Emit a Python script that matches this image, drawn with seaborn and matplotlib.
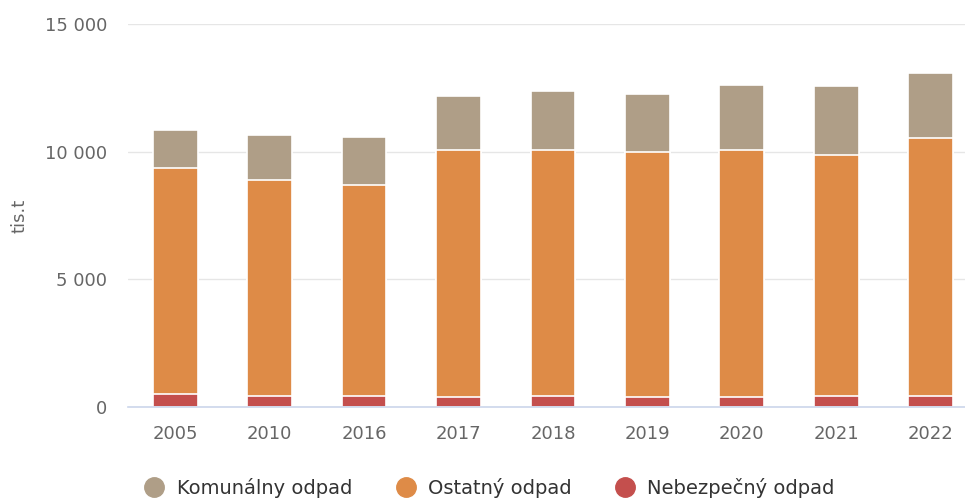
import pandas as pd
import matplotlib.pyplot as plt
import seaborn as sns
from matplotlib.lines import Line2D
from matplotlib.ticker import FuncFormatter

# data (tis. t)
years = ["2005", "2010", "2016", "2017", "2018", "2019", "2020", "2021", "2022"]
komunalny = [1500, 1760, 1900, 2120, 2310, 2290, 2570, 2710, 2560]
ostatny = [8850, 8460, 8260, 9700, 9640, 9630, 9700, 9440, 10110]
nebezpecny = [500, 430, 430, 370, 430, 370, 370, 430, 430]

series_names = ["Komunálny odpad", "Ostatný odpad", "Nebezpečný odpad"]
colors = ["#af9e87", "#de8b47", "#c44f4d"]


def main():
    df = pd.DataFrame({
        "Rok": years,
        "Nebezpečný odpad": nebezpecny,
        "Ostatný odpad": ostatny,
        "Komunálny odpad": komunalny,
    })
    # cumulative heights for stacking (drawn back to front)
    df["top_neb"] = df["Nebezpečný odpad"]
    df["top_ost"] = df["top_neb"] + df["Ostatný odpad"]
    df["top_kom"] = df["top_ost"] + df["Komunálny odpad"]

    sns.set_theme(style="white")
    plt.rcParams["font.family"] = ["DejaVu Sans"]

    fig = plt.figure(figsize=(9.65, 4.99), dpi=100)
    ax = fig.add_axes([0.1326, 0.185, 0.8674, 0.766])

    for col, c in zip(["top_kom", "top_ost", "top_neb"], colors):
        sns.barplot(data=df, x="Rok", y=col, color=c, width=0.473,
                    edgecolor="white", linewidth=1.2, saturation=1, ax=ax)

    ax.set_ylim(0, 15000)
    ax.set_xlim(-0.5, 8.364)
    ax.set_yticks([0, 5000, 10000, 15000])
    ax.yaxis.set_major_formatter(FuncFormatter(lambda v, p: f"{int(v):,}".replace(",", " ")))
    ax.grid(axis="y", color="#e6e6e6", linewidth=1)
    ax.set_axisbelow(True)

    for s in ["top", "left", "right"]:
        ax.spines[s].set_visible(False)
    ax.spines["bottom"].set_color("#ccd6eb")
    ax.spines["bottom"].set_linewidth(1.2)

    ax.tick_params(axis="x", length=0, pad=13, labelsize=13, labelcolor="#666666")
    ax.tick_params(axis="y", length=0, pad=15, labelsize=13, labelcolor="#666666")
    ax.set_xlabel("")
    ax.set_ylabel("tis.t", fontsize=13, color="#666666")
    ax.yaxis.set_label_coords(-0.119, 0.5)

    handles = [Line2D([0], [0], marker="o", linestyle="", markersize=14,
                      markerfacecolor=c, markeredgecolor=c) for c in colors]
    fig.legend(handles, series_names, loc="center", bbox_to_anchor=(0.507, 0.022),
               ncol=3, frameon=False, fontsize=14, handlelength=1.1,
               handletextpad=0.6, columnspacing=2.2, labelcolor="#333333")

    fig.savefig("out.png", dpi=100)


if __name__ == "__main__":
    main()
